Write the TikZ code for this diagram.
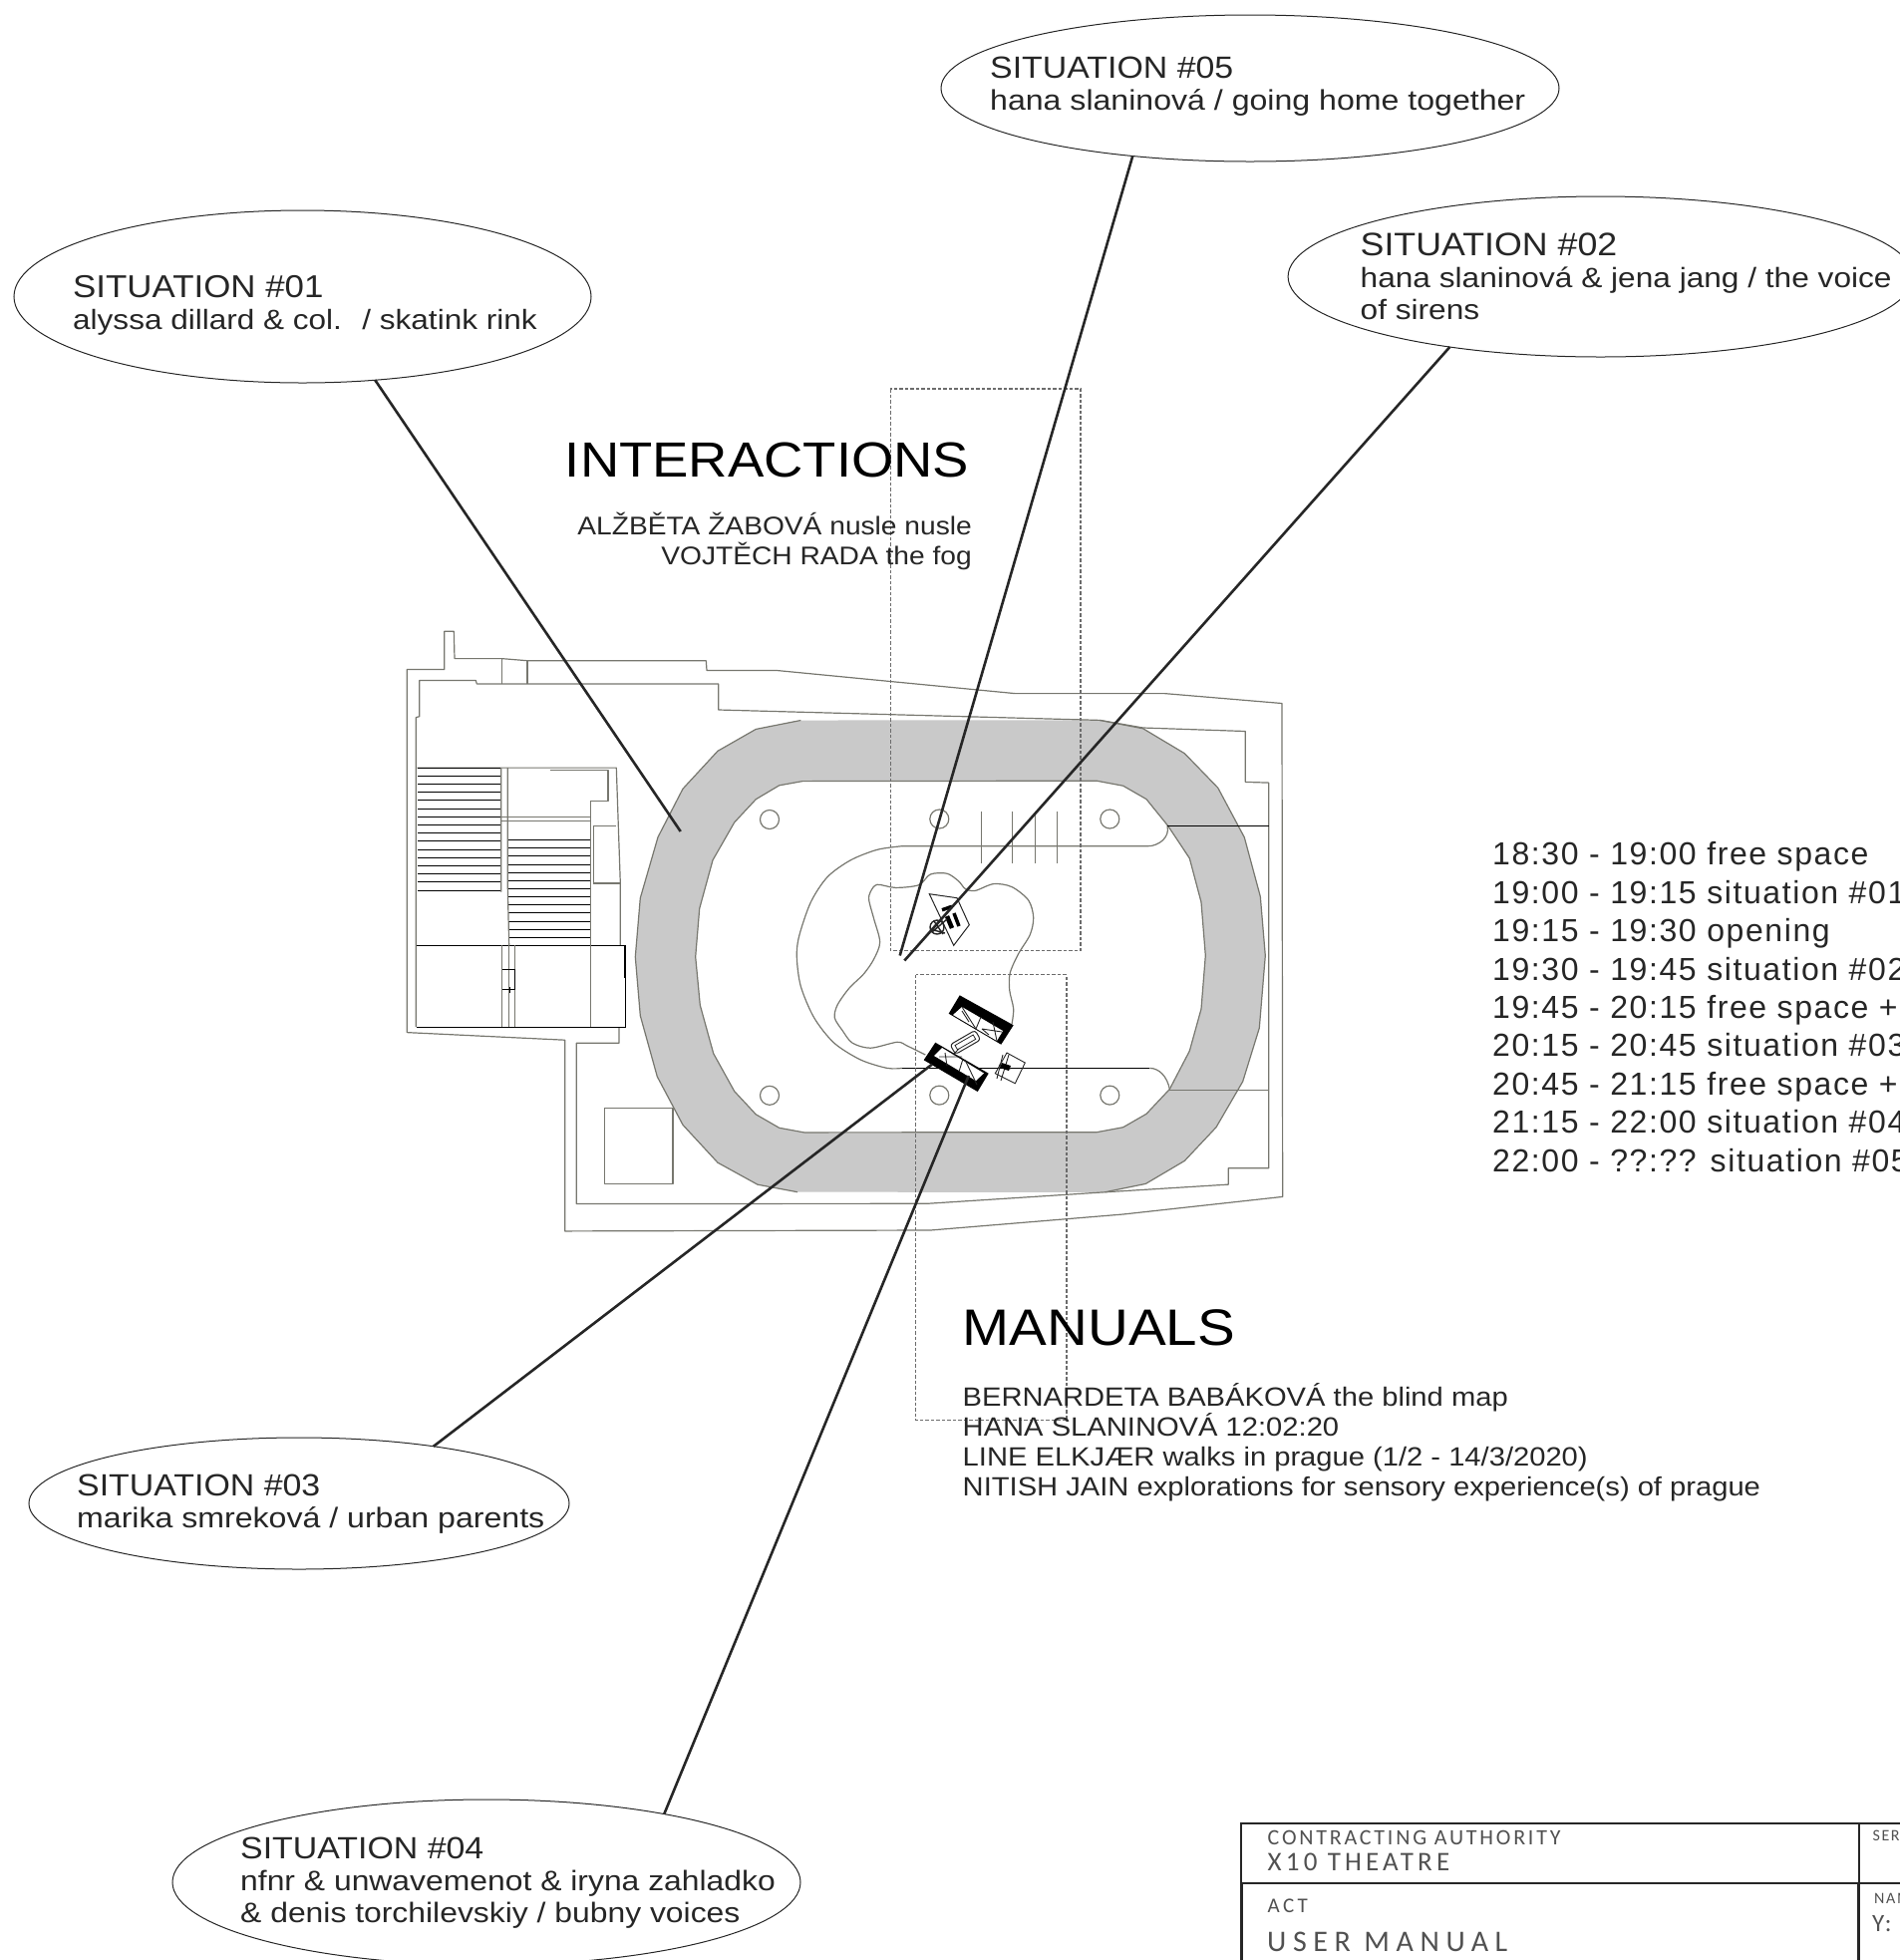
\documentclass[tikz,border=0pt]{standalone}
\usepackage{fontspec}
\usetikzlibrary{shapes.geometric}
\newfontfamily\labelfont[FakeStretch=1.1]{Liberation Sans}
\newfontfamily\sublabelfont[FakeStretch=1.13]{Liberation Sans}
\newfontfamily\timefont[LetterSpace=5]{Liberation Sans}
\newfontfamily\stampfont{Carlito}
\definecolor{ring}{HTML}{C9C9C9}
\definecolor{wallgray}{HTML}{77776F}
\definecolor{ink}{HTML}{262626}
\tikzset{
    wall/.style={draw=wallgray, line width=1.2pt, line join=round},
    blackwall/.style={draw=black, line width=1pt},
    leader/.style={draw=ink, line width=2.6pt},
    dashbox/.style={draw=gray!85!black, line width=1.2pt, dash pattern=on 3.5pt off 2pt},
    bubble/.style={ellipse, draw=ink, line width=1pt, inner sep=0pt, outer sep=0pt},
    bubbletext/.style={anchor=base west, inner sep=0pt, align=left, text=ink, font=\sublabelfont\fontsize{#1}{32}\selectfont},
    heading/.style={inner sep=0pt, text=black, font=\labelfont\fontsize{#1}{56}\selectfont},
    listing/.style={inner sep=0pt, text=ink, font=\labelfont\fontsize{#1}{30}\selectfont},
    timetable/.style={anchor=base west, inner sep=0pt, align=left, text=ink, font=\timefont\fontsize{32}{38.4}\selectfont},
    stamp/.style 2 args={anchor=base west, inner sep=0pt, text=ink!80, font=\stampfont\fontsize{#1}{#1}\selectfont\addfontfeature{LetterSpace=#2}},
    pillar/.style={wall, circle, minimum size=19pt, inner sep=0pt},
}
\newcommand{\sittitle}[2]{{\labelfont\fontsize{#1}{32}\selectfont #2}}

\begin{document}
\begin{tikzpicture}[x=1pt, y=-1pt]
    \useasboundingbox (0,0) rectangle (1906,1966);
    \clip (0,0) rectangle (1906,1966);

    % ring
    \fill[ring, even odd rule]
        (803.3,722.5) -- (758.3,731.4) -- (720,753.3) -- (685,791.2) -- (660,839.7) -- (642.3,900.8) -- (637.3,959.8) -- (642.3,1018.8) -- (659.3,1079.9) -- (685,1128.3) -- (720,1166.2) -- (760,1188.2) -- (800,1195.7)
        -- (1108.3,1195.8) -- (1149.3,1187.4) -- (1188.3,1164.4) -- (1220,1130.7) -- (1246.7,1084.8) -- (1263.3,1031.2) -- (1269.3,958.5) -- (1264.3,899.2) -- (1248.3,839.9) -- (1221.7,790.1) -- (1188.3,755.7) -- (1146.7,730.8) -- (1103.3,722.4) -- cycle
        (805,783.6) -- (781.7,787.8) -- (758.3,801.7) -- (736.7,824.9) -- (715,862.8) -- (701.7,911.3) -- (697.7,959.8) -- (702.3,1008.2) -- (715.7,1056.7) -- (736.7,1094.6) -- (758.3,1117.8) -- (781.7,1131.3) -- (806.7,1135.9)
        -- (1100,1135.7) -- (1126.7,1130.7) -- (1150,1117.3) -- (1173.3,1092.5) -- (1193.3,1054.2) -- (1205,1012) -- (1209.3,958.5) -- (1205,904.9) -- (1193.3,860.9) -- (1171.7,828.4) -- (1150,801.6) -- (1126.7,788.2) -- (1100,783.2) -- cycle;
    \draw[wall]
        (803.3,722.5) -- (758.3,731.4) -- (720,753.3) -- (685,791.2) -- (660,839.7) -- (642.3,900.8) -- (637.3,959.8) -- (642.3,1018.8) -- (659.3,1079.9) -- (685,1128.3) -- (720,1166.2) -- (760,1188.2) -- (800,1195.7)
        (1108.3,1195.8) -- (1149.3,1187.4) -- (1188.3,1164.4) -- (1220,1130.7) -- (1246.7,1084.8) -- (1263.3,1031.2) -- (1269.3,958.5) -- (1264.3,899.2) -- (1248.3,839.9) -- (1221.7,790.1) -- (1188.3,755.7) -- (1146.7,730.8) -- (1103.3,722.4)
        (805,783.6) -- (781.7,787.8) -- (758.3,801.7) -- (736.7,824.9) -- (715,862.8) -- (701.7,911.3) -- (697.7,959.8) -- (702.3,1008.2) -- (715.7,1056.7) -- (736.7,1094.6) -- (758.3,1117.8) -- (781.7,1131.3) -- (806.7,1135.9) -- (1100,1135.7) -- (1126.7,1130.7) -- (1150,1117.3) -- (1173.3,1092.5) -- (1193.3,1054.2) -- (1205,1012) -- (1209.3,958.5) -- (1205,904.9) -- (1193.3,860.9) -- (1171.7,828.4) -- (1150,801.6) -- (1126.7,788.2) -- (1100,783.2) -- (805,783.6);

    % walls
    \draw[wall] (408.3,671.5) -- (445.7,671.5) -- (445.7,633.2) -- (455.3,633.2) -- (456,660.6) -- (503.3,660.6) -- (529,662.7) -- (708.3,662.7) -- (709,672.4) -- (778.3,672.4) -- (1018.3,695.6) -- (1168.3,695.6) -- (1286,705.5) -- (1286.7,1200.4) -- (1126.7,1218) -- (933.3,1234) -- (566.7,1234.9) -- (566.7,1043.2) -- (408.3,1035.6) -- cycle;
    \draw[wall] (417.3,1030.1) -- (417.3,719.6) -- (420.7,718.7) -- (420.7,682.5) -- (477.3,682.5) -- (478.3,685.9) -- (720.7,685.9) -- (720.7,712) -- (1103.3,722.4) -- (1146.7,730) -- (1249.3,733.5) -- (1249.3,784.4) -- (1272.7,785.1) -- (1272.7,1171.7) -- (1232.3,1171.7) -- (1232.3,1188.1) -- (1108.3,1195.8) -- (930,1207.3) -- (578.3,1207.5) -- (578.3,1046.2) -- (621,1046.2) -- (621,1030.1);
    \draw[wall] (503.3,660.6) -- (503.3,685.9) (529,662.7) -- (529,685.9);
    \draw[wall] (606.7,1111.5) rectangle (675,1187.3);

    % building
    \draw[wall] (418.3,770.1) -- (618.3,770.1) -- (622.3,886) -- (622.3,948.4);
    \draw[blackwall] (417.7,948.4) -- (627.3,948.4) -- (627.3,1030.1) -- (417.7,1030.1);
    \draw[wall] (503.3,948.4) -- (503.3,1030.1) (510.7,948.4) -- (510.7,1030.1) (516.7,948.4) -- (516.7,1030.1) (592.7,948.4) -- (592.7,1030.1);
    \foreach \i in {0,...,15}
        \draw[blackwall, line width=0.8pt] (419,770+8.2*\i) -- (502.7,770+8.2*\i);
    \foreach \i in {0,...,12}
        \draw[blackwall, line width=0.8pt] (510,842.6+8.14*\i) -- (592.7,842.6+8.14*\i);
    \draw[wall] (502.7,770) -- (502.7,894.6) (509.3,770) -- (509.3,890) -- (510.7,948.4);
    \draw[wall] (551.7,772.2) -- (610,772.2) -- (610,803.8) -- (592.7,803.8) -- (592.7,948.4);
    \draw[wall] (503.3,819.4) -- (592.7,819.4) (503.3,823.7) -- (592.7,823.7);
    \draw[wall] (595.3,886) -- (595.3,828.3) -- (618.3,828.3) (595.3,886) -- (622.3,886);
    \draw[blackwall] (504,972.4) -- (516,972.4) -- (516,992.6) -- (504,992.6) (511,990) -- (511,996);
    \draw[blackwall, line width=1.6pt] (627,948.4) -- (627,980.8);

    % pillars
    \foreach \px/\py [count=\n] in {772/822, 772/1098.8, 942.3/821.5, 1113.3/821.5, 942.3/1098.6, 1113.3/1098.6}
        \node[pillar] (pillar\n) at (\px,\py) {};

    % stage
    \draw[wall] plot[smooth] coordinates {(905,848.7) (880,852.3) (853.3,862.8) (830,879.7) (813.3,905) (801.7,938.7) (799.3,959.8) (803.3,989.3) (816.7,1020.9) (836.7,1046.1) (863.3,1063) (890,1071.4) (905,1071.4)};
    \draw[wall] (905,848.7) -- (1151.7,848.7) .. controls (1162,848.7) and (1174,840) .. (1171,828.4);
    \draw[blackwall] (905,1071.4) -- (1153.3,1071.4);
    \draw[wall] (1153.3,1071.4) .. controls (1163,1071.4) and (1171,1080) .. (1173.3,1092.5);
    \draw[blackwall] (1171,828.4) -- (1272.7,828.4);
    \draw[wall] (1173.3,1093.6) -- (1272.7,1093.6);
    \foreach \tx in {984.3,1015.7,1038.3,1060.3}
        \draw[wall, line width=1.4pt] (\tx,813.8) -- (\tx,865.5);

    % cloud
    \draw[wall] plot[smooth] coordinates {(1015,1027.4) (1016.7,1012) (1012.7,993) (1013.3,975.7) (1021.7,956.6) (1033.3,937.5) (1036.7,920.2) (1031.7,903) (1015,889.6) (996.7,886.6) (978.3,893.4) (968.3,891.5) (961.7,883.9) (950,876.2) (933.3,877) (921.7,887.7) (898.3,890.4) (880,887.3) (873.3,894.4) (871.7,902.9) (876.7,921.8) (882.7,945) (876.7,961.9) (866.7,976.6) (851.7,991.4) (840,1008.2) (837.3,1020.9) (845,1033.5) (855,1046.1) (873.3,1051.2) (900,1045.3) (910,1049) (928.3,1058)};

    % objects
    \draw[draw=ink, line width=1pt] (932.3,896.7) -- (960,900.7) -- (972.3,927.7) -- (956.7,948.3) -- cycle;
    \draw[black, line width=4.5pt] (950,919) -- (955,931);
    \draw[black, line width=3.5pt] (957,916) -- (962,929);
    \draw[black, line width=3.5pt] (945,912.7) -- (955,909.3);
    \draw[ink, line width=1.4pt] (940,930) circle (7pt) (935,935) -- (950,922) (937,924) -- (946,937) (933,932) -- (948,936);

    \fill[black] (962.7,998.3) -- (1016.7,1028.3) -- (1004.3,1047.7) -- (951.7,1016.7) -- cycle;
    \fill[white] (965,1010) -- (1006,1034) -- (1000,1044) -- (956,1018) -- cycle;
    \draw[ink, line width=0.9pt] (965,1010) -- (979,1032) (965,1014) -- (972,1025) (985,1032) -- (1005,1035) (985,1032) -- (992,1038) (979,1032) -- (984,1020) (996,1025) -- (1000,1044);

    \fill[black] (938.3,1045.7) -- (991.7,1076.7) -- (980.7,1095) -- (926.7,1063.3) -- cycle;
    \fill[white] (945,1051) -- (987,1076.5) -- (979,1084) -- (937,1059) -- cycle;
    \draw[ink, line width=0.9pt] (942,1060) -- (965,1060) (948,1056) -- (950,1069) (966,1062) -- (962,1075) (968,1063) -- (980,1088);

    \draw[ink, line width=1pt, rounded corners=3pt, rotate around={30:(968.3,1045.7)}] (954,1040) rectangle (983,1051);
    \draw[ink, line width=0.8pt, rotate around={30:(968.3,1045.7)}] (958,1043) rectangle (979,1048);
    \draw[ink, line width=0.8pt] (962,1052) -- (956,1058);

    \draw[ink, line width=0.9pt] (1010,1056) -- (1028.3,1066) -- (1018.3,1086.7) -- (998.3,1076.7) -- cycle;
    \draw[ink, line width=0.9pt] (1006,1058) -- (1000,1082) (1012,1058) -- (1004,1084) (1002,1068) -- (1014,1072);
    \fill[black] (1005,1066) -- (1014,1069) -- (1012,1074) -- (1003,1071) -- cycle;

    % dashed frames
    \draw[dashbox] (893.4,390) rectangle (1084,953.5);
    \draw[dashbox] (918.5,977.6) rectangle (1070,1424.3);

    % bubbles
    \node[bubble, minimum width=579pt, minimum height=173pt] (sit1) at (303.5,297.5) {};
    \node[bubble, minimum width=627pt, minimum height=161pt] (sit2) at (1605.6,277.5) {};
    \node[bubble, minimum width=542pt, minimum height=132pt] (sit3) at (300,1508) {};
    \node[bubble, minimum width=630pt, minimum height=166pt] (sit4) at (488,1888) {};
    \node[bubble, minimum width=620pt, minimum height=147pt] (sit5) at (1254,88.5) {};

    \node[bubbletext=27.9] (sit1text) at (73,330) {\sittitle{31.7}{SITUATION \#01}\\alyssa dillard \& col.~ / skatink rink};
    \node[bubbletext=28] (sit2text) at (1364.5,320.5) {\sittitle{32.5}{SITUATION \#02}\\hana slaninová \& jena jang / the voice\\of sirens};
    \node[bubbletext=28.4] (sit3text) at (77,1532) {\sittitle{30.8}{SITUATION \#03}\\marika smreková / urban parents};
    \node[bubbletext=28.2] (sit4text) at (241,1928) {\sittitle{30.8}{SITUATION \#04}\\nfnr \& unwavemenot \& iryna zahladko\\\& denis torchilevskiy / bubny voices};
    \node[bubbletext=28.4] (sit5text) at (993,110.5) {\sittitle{30.8}{SITUATION \#05}\\hana slaninová / going home together};

    % free ends of the leaders
    \coordinate (end1) at (682.7,834);
    \coordinate (end2) at (907.3,963.5);
    \coordinate (end3) at (935,1067.6);
    \coordinate (end4) at (971.7,1079);
    \coordinate (end5) at (902.7,958.5);
    \draw[leader] (sit1.-49.5) -- (end1);
    \draw[leader] (sit2.205) -- (end2);
    \draw[leader] (sit3.23.2) -- (end3);
    \draw[leader] (sit4.21) -- (end4);
    \draw[leader] (sit5.210.7) -- (end5);

    % headings
    \node[heading=49.5, anchor=base west] (interactions) at (566.7,478) {INTERACTIONS};
    \node[listing=25.6, anchor=base east, align=right] (interlist) at (975,566) {ALŽBĚTA ŽABOVÁ nusle nusle\\VOJTĚCH RADA the fog};
    \node[heading=51.4, anchor=base west] (manuals) at (965.5,1349) {MANUALS};
    \node[listing=26.5, anchor=base west, align=left] (manuallist) at (965.5,1500) {BERNARDETA BABÁKOVÁ the blind map\\HANA SLANINOVÁ 12:02:20\\LINE ELKJÆR walks in prague (1/2 - 14/3/2020)\\NITISH JAIN explorations for sensory experience(s) of prague};

    % programme
    \node[timetable] (programme) at (1497,1175) {18:30 - 19:00 free space\\19:00 - 19:15 situation \#01\\19:15 - 19:30 opening\\19:30 - 19:45 situation \#02\\19:45 - 20:15 free space +\\20:15 - 20:45 situation \#03\\20:45 - 21:15 free space +\\21:15 - 22:00 situation \#04\\22:00 - ??:?? situation \#05};

    % title block
    \draw[ink, line width=1.2pt] (1245,1966) -- (1245,1829) -- (1906,1829) (1865,1829) -- (1865,1966) (1865,1889) -- (1906,1889);
    \draw[ink, line width=2.4pt] (1246,1966) -- (1246,1889) -- (1864,1889) -- (1864,1966);
    \node[stamp={22}{12.6}] (authority) at (1271.5,1850) {CONTRACTING AUTHORITY};
    \node[stamp={27}{15.5}] (theatre) at (1271.5,1876.7) {X10 THEATRE};
    \node[stamp={21}{16}] (act) at (1271.5,1918) {ACT};
    \node[stamp={30}{22}] (usermanual) at (1271,1957.7) {USER MANUAL};
    \node[stamp={16}{10}] (ser) at (1878.4,1846.7) {SER};
    \node[stamp={16}{10}] (nam) at (1880,1909) {NAM};
    \node[stamp={25}{10}] (yval) at (1878,1937.7) {Y:};
\end{tikzpicture}
\end{document}
